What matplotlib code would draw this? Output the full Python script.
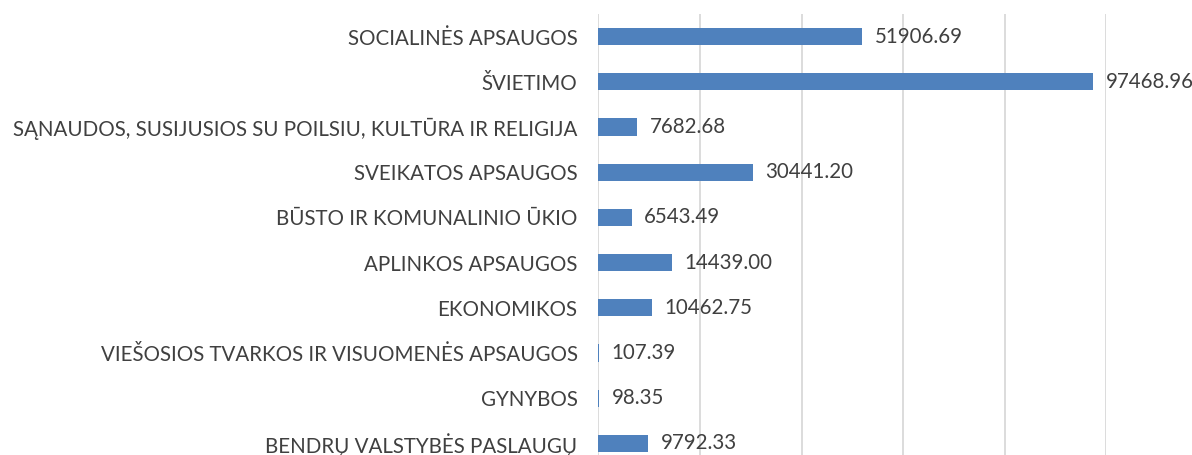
import matplotlib.pyplot as plt

categories = [
    "SOCIALINĖS APSAUGOS",
    "ŠVIETIMO",
    "SĄNAUDOS, SUSIJUSIOS SU POILSIU, KULTŪRA IR RELIGIJA",
    "SVEIKATOS APSAUGOS",
    "BŪSTO IR KOMUNALINIO ŪKIO",
    "APLINKOS APSAUGOS",
    "EKONOMIKOS",
    "VIEŠOSIOS TVARKOS IR VISUOMENĖS APSAUGOS",
    "GYNYBOS",
    "BENDRŲ VALSTYBĖS PASLAUGŲ",
]
values = [51906.69, 97468.96, 7682.68, 30441.20, 6543.49,
          14439.00, 10462.75, 107.39, 98.35, 9792.33]

plt.rcParams['font.family'] = ['Lato', 'DejaVu Sans']

fig = plt.figure(figsize=(11.92, 4.55), dpi=100)
ax = fig.add_axes([0.502, -0.024, 0.426, 0.993])

pos = list(range(len(categories)))
ax.barh(pos, values, height=0.38, color='#4f81bd', zorder=3)

# value labels right of each bar
for y, v in zip(pos, values):
    ax.annotate(f"{v:.2f}", (v, y), xytext=(9, 0), textcoords='offset points',
                ha='left', va='center', fontsize=14.8, color='#404040',
                annotation_clip=False, clip_on=False)

ax.set_xlim(0, 100000)
ax.set_ylim(len(categories) - 0.5, -0.5)
ax.set_xticks(range(0, 100001, 20000))
ax.set_yticks(pos)
ax.set_yticklabels(categories, fontsize=14.8, color='#404040')
ax.tick_params(axis='y', length=0, pad=15)
ax.tick_params(axis='x', length=0, labelbottom=False)
ax.grid(axis='x', color='#d9d9d9', linewidth=1.3, zorder=0)
for s in ax.spines.values():
    s.set_visible(False)

fig.savefig('out.png', dpi=100)
